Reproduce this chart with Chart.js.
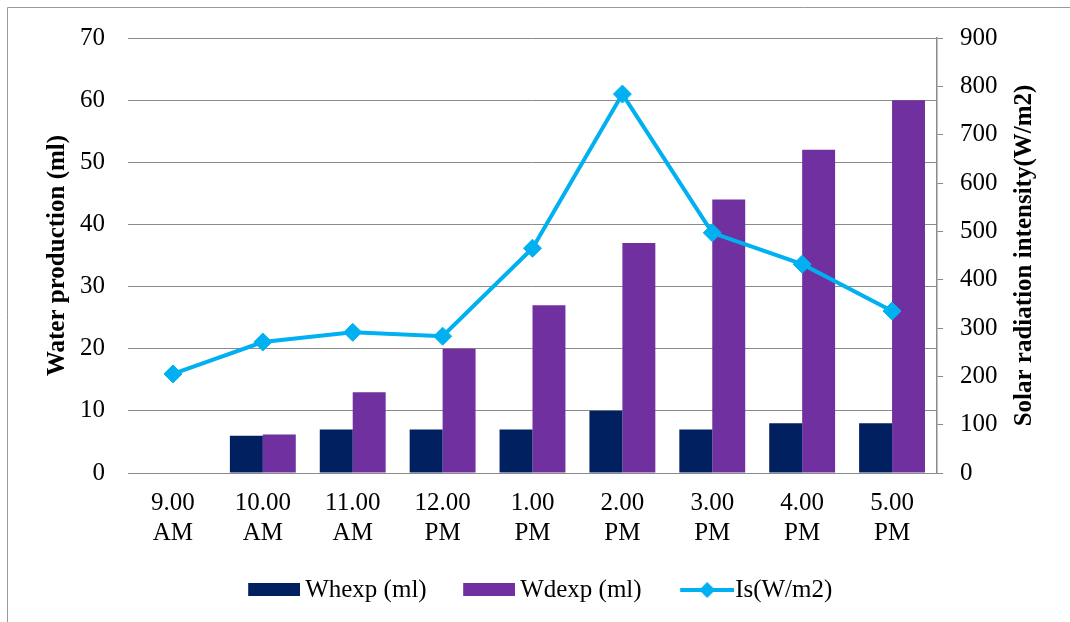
<!DOCTYPE html>
<html>
<head>
<meta charset="utf-8">
<script src="https://cdn.jsdelivr.net/npm/chart.js@4.4.1/dist/chart.umd.min.js"></script>
<style>
html,body{margin:0;padding:0;background:#fff;}
#wrap{position:relative;width:1070px;height:622px;}
</style>
</head>
<body>
<div id="wrap"><canvas id="c" width="1070" height="622"></canvas></div>
<script>
const categories = [["9.00","AM"],["10.00","AM"],["11.00","AM"],["12.00","PM"],["1.00","PM"],["2.00","PM"],["3.00","PM"],["4.00","PM"],["5.00","PM"]];
const whexp = [0, 6, 7, 7, 7, 10, 7, 8, 8];
const wdexp = [0, 6.2, 13, 20, 27, 37, 44, 52, 60];
const solar = [205, 271, 291, 283, 465, 784, 497, 432, 335];
const seriesNames = ["Whexp (ml)", "Wdexp (ml)", "Is(W/m2)"];
const leftTitle = "Water production (ml)";
const rightTitle = "Solar radiation intensity(W/m2)";

const NAVY = "#002060", PURPLE = "#7030a0", CYAN = "#00b0f0";
const FONT = "'Liberation Serif', 'Times New Roman', serif";

function boxImg(color) {
  const c = document.createElement('canvas'); c.width = 60; c.height = 14;
  const g = c.getContext('2d'); g.fillStyle = color; g.fillRect(8, 0, 52, 13); return c;
}
function lineImg(color) {
  const c = document.createElement('canvas'); c.width = 68; c.height = 18;
  const g = c.getContext('2d');
  g.strokeStyle = color; g.lineWidth = 4; g.beginPath(); g.moveTo(14, 9); g.lineTo(68, 9); g.stroke();
  g.fillStyle = color; const r = 8, cx = 41; g.beginPath();
  g.moveTo(cx, 9 - r); g.lineTo(cx + r, 9); g.lineTo(cx, 9 + r); g.lineTo(cx - r, 9); g.closePath(); g.fill();
  return c;
}
const legendImgs = [boxImg(NAVY), boxImg(PURPLE), lineImg(CYAN)];

const framePlugin = {
  id: 'frame',
  beforeDraw(chart) {
    const ctx = chart.ctx; ctx.save();
    ctx.strokeStyle = '#9a9a9a'; ctx.lineWidth = 1;
    ctx.beginPath(); ctx.moveTo(7.5, 622); ctx.lineTo(7.5, 7.5); ctx.lineTo(1070, 7.5); ctx.stroke();
    ctx.restore();
  },
  afterDraw(chart) {
    const ctx = chart.ctx; const a = chart.chartArea; ctx.save();
    ctx.font = "bold 25px " + FONT; ctx.fillStyle = '#000';
    ctx.textAlign = 'center'; ctx.textBaseline = 'middle';
    ctx.translate(1025, (a.top + a.bottom) / 2); ctx.rotate(-Math.PI / 2);
    ctx.fillText(rightTitle, 0, 0);
    ctx.restore();
  }
};

new Chart(document.getElementById('c'), {
  type: 'bar',
  data: {
    labels: categories,
    datasets: [
      { type: 'line', label: seriesNames[2], data: solar, yAxisID: 'y1', borderColor: CYAN, backgroundColor: CYAN,
        borderWidth: 4, pointStyle: 'rectRot', pointRadius: 9, pointHoverRadius: 9, pointBorderWidth: 1, tension: 0, order: 0 },
      { label: seriesNames[0], data: whexp, yAxisID: 'y', backgroundColor: NAVY, order: 1,
        barPercentage: 1, categoryPercentage: 0.733 },
      { label: seriesNames[1], data: wdexp, yAxisID: 'y', backgroundColor: PURPLE, order: 1,
        barPercentage: 1, categoryPercentage: 0.733 }
    ]
  },
  options: {
    responsive: false,
    animation: false,
    layout: { padding: { left: 10, right: 0, top: 38, bottom: 9.5 } },
    plugins: {
      tooltip: { enabled: false },
      legend: {
        position: 'bottom',
        labels: {
          font: { family: FONT, size: 25 }, color: '#000',
          usePointStyle: true, pointStyleWidth: 45, boxHeight: 14, padding: 36,
          sort: (a, b) => seriesNames.indexOf(a.text) - seriesNames.indexOf(b.text),
          generateLabels(chart) {
            const items = Chart.defaults.plugins.legend.labels.generateLabels(chart);
            items.forEach(it => { it.pointStyle = legendImgs[seriesNames.indexOf(it.text)]; });
            return items;
          }
        }
      }
    },
    scales: {
      x: {
        grid: { display: false, drawTicks: false },
        border: { display: true, color: '#8a8a8a', width: 1 },
        ticks: { font: { family: FONT, size: 25, lineHeight: 1.2 }, color: '#000', padding: 15.5, maxRotation: 0, autoSkip: false },
        afterFit(s) { s.height = 68.5; }
      },
      y: {
        position: 'left', min: 0, max: 70,
        ticks: { stepSize: 10, font: { family: FONT, size: 25 }, color: '#000', padding: 23 },
        grid: { color: '#8a8a8a', lineWidth: 1, drawTicks: false },
        border: { display: false },
        title: { display: true, text: leftTitle, font: { family: FONT, size: 25, weight: 'bold' }, color: '#000', padding: { top: 33, bottom: 0 } },
        afterFit(s) { s.width = 118; }
      },
      y1: {
        position: 'right', min: 0, max: 900,
        ticks: { stepSize: 100, font: { family: FONT, size: 25 }, color: '#000', padding: 17 },
        grid: { drawOnChartArea: false, color: '#8a8a8a', tickLength: 6, drawTicks: true },
        border: { display: true, color: '#8a8a8a', width: 1.5 },
        afterFit(s) { s.width = 133; }
      }
    }
  },
  plugins: [framePlugin]
});
</script>
</body>
</html>
